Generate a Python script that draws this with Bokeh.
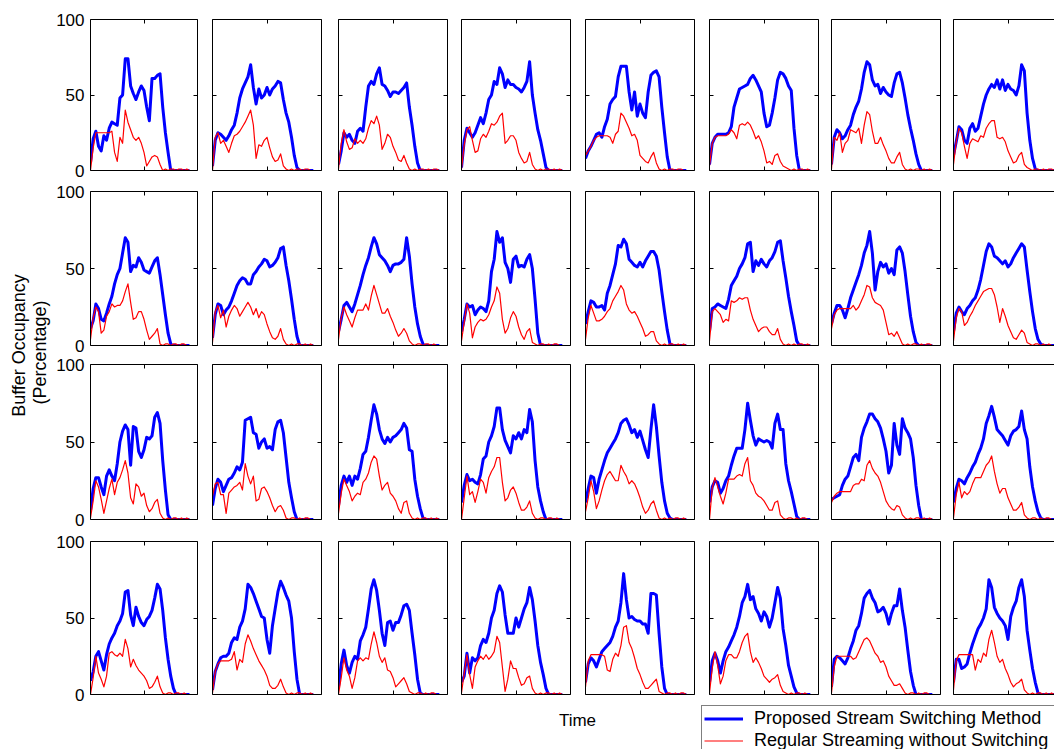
from bokeh.plotting import figure
from bokeh.layouts import row, column
from bokeh.models import LinearAxis, Range1d, FixedTicker, Label, Legend, LegendItem
from bokeh.embed import file_html
from bokeh.resources import INLINE

# ---------------- data ----------------
time = [0, 2.5, 5, 7.5, 10, 12.5, 15, 17.5, 20, 22.5, 25, 27.5, 30, 32.5, 35, 37.5, 40, 42.5, 45,
        47.5, 50, 52.5, 55, 57.5, 60, 62.5, 65, 67.5, 70, 72.5, 75, 77.5, 80, 82.5, 85, 87.5, 90, 92.5]
y_ticks = [0, 50, 100]
x_ticks = [50]
series_names = ["Proposed Stream Switching Method", "Regular Streaming without Switching"]
y_title = ["Buffer Occupancy", "(Percentage)"]
x_title = "Time"

proposed_row1 = [
    [5,21,26,16,13,23,20,28,32,31, 30,48,50,74,74,56,51,47,52,56, 53,42,33,61,61,63,64,42,25,12, 0,0,0,0,0,0,0,0],
    [3,20,25,24,22,20,23,27,30,38, 48,54,58,62,70,55,44,54,48,50, 55,50,54,56,59,58,47,38,32,22, 10,2,0,0,0,0,0,0],
    [4,13,25,22,24,20,18,26,28,26, 42,56,59,57,64,68,57,56,53,49, 52,52,51,53,55,58,42,30,16,5, 0,0,0,0,0,0,0,0],
    [2,20,28,25,22,25,30,35,31,38, 47,50,59,57,68,64,55,60,57,57, 55,54,52,55,59,72,50,38,27,20, 11,2,0,0,0,0,0,0],
    [8,13,16,20,24,25,22,29,34,44, 47,49,62,69,69,69,52,40,52,36, 44,38,35,52,63,65,66,62,42,25, 9,0,0,0,0,0,0,0],
    [4,18,22,24,24,24,24,25,29,42, 48,54,55,56,57,61,63,60,56,52, 38,29,30,38,48,60,65,64,61,56, 53,28,10,0,0,0,0,0],
    [4,22,27,25,21,23,27,30,37,42, 46,54,65,72,70,60,56,57,51,55, 52,50,49,58,64,65,58,48,37,28, 20,11,4,0,0,0,0,0],
    [10,19,29,27,20,18,28,31,26,28, 36,44,50,54,57,55,60,54,60,53, 57,54,53,50,56,70,66,38,20,8, 1,0,0,0,0,0,0,0],
]
regular_row1 = [
    [0,15,25,25,25,25,25,25,26,12, 6,22,18,40,32,27,22,20,22,18, 12,3,6,9,10,9,4,0,1,0, 1,1,0,1,1,0,1,0],
    [0,22,25,18,20,16,12,18,23,24, 26,29,32,36,40,30,8,17,16,20, 22,15,9,6,7,11,3,1,0,1, 0,1,1,0,1,1,0,0],
    [1,18,27,19,14,15,21,18,20,18, 21,28,33,31,36,30,14,18,24,22, 16,12,7,6,10,5,1,0,1,0, 1,1,0,1,0,1,1,0],
    [1,17,27,29,20,12,13,21,24,22, 26,31,30,32,36,38,18,20,23,23, 20,12,8,5,6,12,4,1,0,1, 0,1,1,0,1,0,1,0],
    [10,13,16,20,22,23,23,23,23,22, 18,24,26,38,36,32,28,23,24,20, 10,8,6,5,9,12,5,1,0,1, 0,1,1,0,1,1,0,0],
    [3,18,22,23,23,23,23,24,27,25, 21,30,31,30,32,30,26,21,23,19, 13,5,6,4,10,11,6,3,2,1, 0,1,0,1,1,0,1,0],
    [1,22,20,25,12,18,20,27,26,25, 28,18,30,39,37,26,18,18,22,17, 13,8,5,5,9,12,4,1,0,1, 0,1,1,0,1,0,1,0],
    [4,19,28,25,16,8,18,21,20,19, 23,22,28,31,33,33,22,21,22,19, 13,9,5,6,10,12,4,2,1,0, 1,1,0,1,0,1,1,0],
]
proposed_row2 = [
    [11,16,27,24,17,16,21,27,32,40, 46,50,60,70,67,48,52,51,57,54, 49,48,47,51,55,57,46,33,20,8, 1,0,0,0,0,0,0,0],
    [5,20,27,26,20,23,25,29,34,39, 42,44,43,40,40,46,48,51,53,56, 55,51,52,54,57,63,64,52,42,30, 17,6,0,0,0,0,0,0],
    [9,17,26,28,25,22,27,33,39,46, 52,57,64,70,66,59,57,55,52,48, 52,53,53,54,56,70,58,40,25,14, 6,1,0,0,0,0,0,0],
    [9,17,27,25,26,20,23,25,24,22, 29,48,56,74,67,70,54,50,41,56, 58,51,52,51,56,59,50,30,8,0, 0,0,0,0,0,0,0,0],
    [14,22,29,28,25,25,26,23,34,39, 46,53,65,64,69,66,56,54,52,51, 54,51,55,58,61,61,58,49,35,22, 10,1,0,0,0,0,0,0],
    [9,24,25,27,26,25,24,30,39,42, 45,50,53,57,66,67,48,55,52,56, 53,51,55,57,61,67,68,55,44,32, 22,13,3,0,0,0,0,0],
    [14,21,26,26,23,18,24,31,36,41, 46,52,60,65,74,60,36,48,54,51, 53,47,50,46,62,64,60,48,33,19, 9,2,0,0,0,0,0,0],
    [9,21,25,22,20,24,26,29,31,36, 43,52,61,66,64,58,57,55,53,55, 51,53,57,60,63,66,64,49,35,22, 11,4,1,0,0,0,0,0],
]
regular_row2 = [
    [4,18,25,22,8,10,19,22,27,25, 26,26,29,35,40,28,17,18,22,22, 17,10,4,6,8,11,1,0,1,1, 0,1,1,0,1,1,0,0],
    [2,22,26,18,23,12,19,23,26,24, 19,22,25,28,25,20,24,18,22,20, 14,9,5,4,6,11,4,1,0,1, 0,1,1,0,1,0,1,0],
    [4,18,25,20,16,12,18,23,23,23, 27,23,32,39,33,27,21,21,24,19, 15,10,6,8,11,8,3,1,0,1, 1,0,1,1,0,1,0,0],
    [3,15,27,21,5,12,15,17,16,17, 20,25,29,38,34,17,8,11,18,22, 19,12,7,4,9,11,2,1,0,1, 1,0,1,0,1,1,0,0],
    [4,18,26,21,16,16,17,19,22,24, 29,32,35,39,36,27,23,21,22,19, 15,11,6,7,9,9,3,1,0,1, 0,1,1,0,1,0,1,0],
    [3,22,24,22,20,15,17,16,29,28, 29,31,30,31,31,23,17,13,9,11, 12,12,9,7,7,11,4,1,0,1, 0,1,0,1,1,0,1,0],
    [11,20,23,24,24,24,24,24,26,23, 25,29,33,39,38,31,28,27,26,23, 15,7,8,6,9,5,1,0,1,0, 1,1,0,1,0,1,1,0],
    [3,18,24,22,13,15,19,22,26,29, 32,35,36,37,37,33,25,15,24,19, 13,9,5,4,7,10,8,2,1,0, 1,1,0,1,0,1,0,0],
]
proposed_row3 = [
    [6,20,27,27,21,16,28,32,28,25, 36,50,57,61,58,35,60,59,44,40, 45,53,52,54,66,69,62,38,19,3, 0,0,0,0,0,0,0,0],
    [9,20,26,24,18,22,26,27,30,34, 32,37,64,65,66,56,55,46,50,52, 46,47,45,58,63,64,56,40,24,14, 5,0,0,0,0,0,0,0],
    [9,22,28,24,28,22,28,26,33,42, 44,53,64,74,68,58,52,49,53,50, 53,54,56,58,62,59,45,44,26,15, 7,1,0,0,0,0,0,0],
    [11,22,29,25,26,24,23,29,39,41, 50,54,60,72,72,58,51,47,43,54, 52,56,52,58,56,71,63,38,21,12, 5,0,0,0,0,0,0,0],
    [11,20,28,27,17,26,32,38,43,46, 49,52,56,62,64,65,61,56,58,53, 57,51,45,40,58,74,60,41,24,12, 4,1,0,0,0,0,0,0],
    [11,21,25,24,17,20,25,28,35,41, 46,46,46,58,75,64,54,48,52,51, 50,51,50,46,62,68,58,58,36,25, 18,10,2,0,0,0,0,0],
    [13,14,15,16,22,26,28,34,40,42, 38,53,59,63,68,68,65,63,59,52, 44,30,35,62,48,42,65,59,56,52, 40,22,9,0,0,0,0,0],
    [11,20,26,25,23,27,30,34,37,42, 46,52,62,67,73,66,58,56,54,51, 48,54,57,58,60,70,58,52,34,21, 12,5,1,0,0,0,0,0],
]
regular_row3 = [
    [1,12,25,21,13,4,12,20,26,16, 24,27,32,38,30,14,10,23,21,15, 17,9,5,7,11,13,4,1,0,1, 0,1,1,0,1,0,1,0],
    [15,23,24,16,16,4,17,19,21,22, 24,19,36,28,23,28,12,13,20,21, 18,14,9,5,8,9,6,1,0,1, 1,0,1,0,1,1,0,0],
    [4,17,26,22,18,12,15,17,16,24, 26,30,37,41,39,28,19,22,24,17, 15,12,7,4,11,12,4,1,0,1, 0,1,1,0,1,0,1,0],
    [0,14,28,16,18,11,18,26,24,17, 27,31,34,40,40,24,12,14,19,21, 17,11,6,6,8,12,4,1,0,1, 1,0,1,1,0,1,0,0],
    [5,14,25,18,7,12,19,25,29,31, 28,25,25,35,31,28,23,25,23,19, 14,8,4,6,10,12,6,1,0,1, 0,1,0,1,1,0,1,0],
    [0,20,27,21,15,10,17,26,26,26, 28,29,28,36,40,25,22,17,15,14, 12,9,6,6,11,12,3,1,0,1, 1,0,1,0,1,1,0,0],
    [11,15,17,18,18,18,18,18,22,23, 23,26,25,35,38,33,30,28,24,18, 12,9,7,6,9,8,3,1,0,1, 0,1,1,0,1,0,1,0],
    [1,16,24,14,18,16,18,23,27,27, 27,31,35,37,41,31,23,17,20,20, 14,10,6,6,8,11,3,1,0,1, 1,0,1,0,1,1,0,0],
]
proposed_row4 = [
    [9,15,25,28,22,16,26,33,37,40, 45,48,53,67,68,52,45,57,51,47, 45,49,51,55,63,72,69,55,37,23, 12,4,0,0,0,0,0,0],
    [3,15,20,24,25,25,27,34,37,36, 44,48,56,72,70,66,61,56,51,50, 36,27,45,56,67,74,70,65,61,50, 28,10,0,0,0,0,0,0],
    [5,20,29,19,14,21,25,23,35,39, 44,56,69,75,68,55,40,32,47,48, 42,47,47,52,58,59,55,40,26,10, 1,0,0,0,0,0,0,0],
    [8,12,27,14,24,22,24,32,36,34, 40,50,55,66,71,67,52,40,40,40, 50,44,50,56,60,70,62,48,32,21, 13,4,0,0,0,0,0,0],
    [8,20,24,22,18,23,28,30,32,34, 38,44,48,60,79,62,50,51,49,48, 48,46,46,40,66,66,65,40,18,4, 0,0,0,0,0,0,0,0],
    [8,22,27,22,14,22,28,31,35,39, 44,51,60,64,72,62,64,56,53,48, 54,51,44,50,60,70,63,43,32,19, 12,5,1,0,0,0,0,0],
    [5,23,25,24,22,20,24,30,35,42, 45,53,63,66,68,63,60,54,55,57, 53,46,53,58,58,69,55,44,29,15, 6,0,0,0,0,0,0,0],
    [8,23,23,17,18,20,27,33,38,43, 46,50,56,75,70,57,53,50,48,45, 36,51,57,61,70,75,64,42,29,17, 8,1,0,0,0,0,0,0],
]
regular_row4 = [
    [0,11,25,14,10,5,12,27,28,26, 25,27,25,36,30,18,23,19,16,14, 12,9,4,5,8,12,5,1,0,1, 1,0,1,1,0,1,0,0],
    [1,15,20,22,22,22,22,23,28,16, 23,21,33,39,35,30,26,22,19,16, 12,6,4,4,6,10,5,1,0,1, 0,1,1,0,1,0,1,0],
    [0,11,24,16,12,4,11,22,24,22, 24,23,33,41,34,25,21,24,16,15, 11,5,7,9,11,7,2,1,0,1, 1,0,1,0,1,1,0,0],
    [1,14,26,13,4,18,22,25,23,26, 23,25,28,38,34,18,2,10,22,17, 17,11,6,7,11,12,4,1,0,1, 0,1,1,0,1,0,1,0],
    [5,22,26,26,26,26,26,25,16,15, 23,27,25,32,44,45,34,30,24,17, 13,8,4,4,6,8,10,2,1,0, 1,1,0,1,0,1,1,0],
    [1,17,28,19,7,12,22,26,26,24, 24,28,34,38,40,28,21,24,21,17, 12,10,8,10,11,13,6,2,1,0, 1,0,1,1,0,1,0,0],
    [1,18,25,25,25,25,25,25,23,24, 28,32,36,37,35,31,27,25,21,22, 18,12,9,6,6,7,4,1,0,1, 1,0,1,0,1,1,0,0],
    [3,22,26,26,26,26,26,26,16,23, 21,27,25,36,42,34,25,21,23,17, 13,8,5,7,8,10,3,1,0,1, 0,1,1,0,1,0,1,0],
]

proposed = [proposed_row1, proposed_row2, proposed_row3, proposed_row4]
regular = [regular_row1, regular_row2, regular_row3, regular_row4]

# ---------------- layout / style ----------------
FONT = "Liberation Sans"
BLUE = "#0000FF"
RED = "#FF0000"
label_w = 53
col_w = [151, 126, 124, 123, 125, 123, 121, 108]
col_bl = [35, 8, 8, 7, 8, 7, 6, 7]
col_br = [7, 9, 7, 7, 8, 7, 6, 0]
row_h = [180, 175, 175, 174]
row_bt = [19, 11, 9, 11]
row_bb = [10, 10, 11, 10]
x_end_last = 100 * 101 / 109  # right-most panel is cut by the window edge


def clean(p):
    for g in p.grid:
        g.visible = False


def style_axis(ax, labelled):
    ax.axis_line_color = "black"
    ax.axis_line_width = 1
    ax.major_tick_in = 4
    ax.major_tick_out = 0
    ax.minor_tick_in = 4
    ax.minor_tick_out = 0
    ax.major_tick_line_color = "black"
    ax.minor_tick_line_color = "black"
    ax.axis_label = None
    if labelled:
        ax.major_label_text_font = FONT
        ax.major_label_text_font_size = "17px"
        ax.major_label_text_color = "black"
        ax.major_label_standoff = 6
    else:
        ax.major_label_standoff = 0


def make_panel(r, c):
    last = c == len(col_w) - 1
    p = figure(width=col_w[c], height=row_h[r],
               x_range=Range1d(0, x_end_last if last else 100), y_range=Range1d(0, 100),
               min_border_left=col_bl[c], min_border_right=col_br[c],
               min_border_top=row_bt[r], min_border_bottom=row_bb[r],
               x_axis_location=None, y_axis_location=None,
               toolbar_location=None, output_backend="svg",
               outline_line_color=None, background_fill_color="white", border_fill_color="white")
    clean(p)
    if c == 0:
        la = LinearAxis(ticker=FixedTicker(ticks=y_ticks))
        style_axis(la, True)
    else:
        la = LinearAxis(ticker=FixedTicker(ticks=[], minor_ticks=y_ticks))
        style_axis(la, False)
    p.add_layout(la, "left")
    if not last:
        ra = LinearAxis(ticker=FixedTicker(ticks=[], minor_ticks=y_ticks))
        style_axis(ra, False)
        p.add_layout(ra, "right")
    ba = LinearAxis(ticker=FixedTicker(ticks=[], minor_ticks=x_ticks))
    style_axis(ba, False)
    p.add_layout(ba, "below")
    ta = LinearAxis(ticker=FixedTicker(ticks=[], minor_ticks=x_ticks))
    style_axis(ta, False)
    p.add_layout(ta, "above")

    p.line(time, proposed[r][c], line_color=BLUE, line_width=3, line_join="round")
    p.line(time, regular[r][c], line_color=RED, line_width=1.2, line_join="round")
    return p


rows = [row(*[make_panel(r, c) for c in range(len(col_w))]) for r in range(len(row_h))]
grid = column(*rows)

grid_h = sum(row_h)
label_fig = figure(width=label_w, height=grid_h, x_range=Range1d(0, label_w), y_range=Range1d(0, grid_h),
                   min_border=0, x_axis_location=None, y_axis_location=None,
                   toolbar_location=None, output_backend="svg", outline_line_color=None)
clean(label_fig)
label_fig.add_layout(Label(x=18.5, y=grid_h - 345, text=y_title[0], angle=90, angle_units="deg",
                           text_align="center", text_baseline="middle", text_font=FONT,
                           text_font_size="18px", text_color="black"))
label_fig.add_layout(Label(x=39.5, y=grid_h - 352, text=y_title[1], angle=90, angle_units="deg",
                           text_align="center", text_baseline="middle", text_font=FONT,
                           text_font_size="18px", text_color="black"))

total_w = label_w + sum(col_w)
bottom_h = 749 - grid_h
bottom = figure(width=total_w, height=bottom_h, x_range=Range1d(0, total_w), y_range=Range1d(0, bottom_h),
                min_border=0, x_axis_location=None, y_axis_location=None,
                toolbar_location=None, output_backend="svg", outline_line_color=None)
clean(bottom)
bottom.add_layout(Label(x=577, y=749 - 720, text=x_title, text_align="center", text_baseline="middle",
                        text_font=FONT, text_font_size="17px", text_color="black"))
# single-point proxies: nothing is drawn for them, they only give the legend its glyphs
rb = bottom.line(x=[time[0]], y=[-10], line_color=BLUE, line_width=3)
rr = bottom.line(x=[time[0]], y=[-10], line_color=RED, line_width=1.2)
legend_h = 2 + 21 + 1 + 21 + 2
legend = Legend(items=[LegendItem(label=series_names[0], renderers=[rb]),
                       LegendItem(label=series_names[1], renderers=[rr])],
                location=(701, bottom_h - legend_h - 3), padding=2, spacing=1, margin=0,
                glyph_width=39, glyph_height=21, label_height=21, label_width=330, label_standoff=11,
                label_text_font=FONT, label_text_font_size="18px", label_text_color="black",
                border_line_color="black", border_line_width=1,
                background_fill_color="white", background_fill_alpha=1.0)
bottom.add_layout(legend)

layout = column(row(label_fig, grid), bottom)

open("out.html", "w").write(file_html(layout, INLINE))
